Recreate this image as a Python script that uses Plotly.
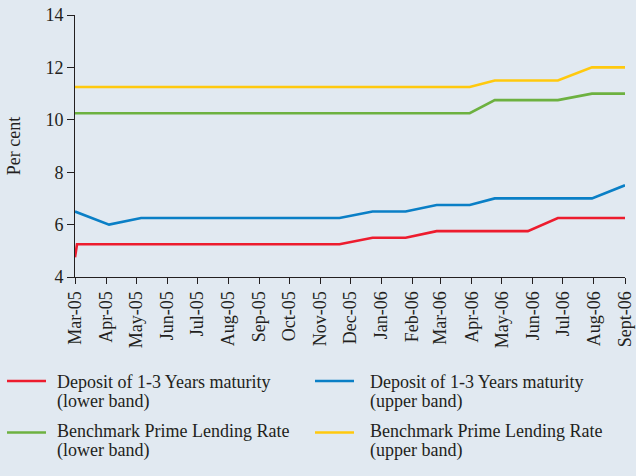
import plotly.graph_objects as go

# Observation dates
dates = ["2005-03-01", "2005-03-03", "2005-04-04", "2005-05-06", "2005-11-20",
         "2005-12-23", "2006-01-25", "2006-02-25", "2006-03-30", "2006-04-24",
         "2006-05-27", "2006-06-26", "2006-07-30", "2006-09-01"]

deposit_lower = [4.75, 5.25, 5.25, 5.25, 5.25, 5.5, 5.5, 5.75, 5.75, 5.75, 5.75, 6.25, 6.25, 6.25]
deposit_upper = [6.5, None, 6.0, 6.25, 6.25, 6.5, 6.5, 6.75, 6.75, 7.0, 7.0, 7.0, 7.0, 7.5]
bplr_lower = [10.25, None, 10.25, 10.25, 10.25, 10.25, 10.25, 10.25, 10.25, 10.75, 10.75, 10.75, 11.0, 11.0]
bplr_upper = [11.25, None, 11.25, 11.25, 11.25, 11.25, 11.25, 11.25, 11.25, 11.5, 11.5, 11.5, 12.0, 12.0]

series_names = [["Deposit of 1-3 Years maturity", "(lower band)"],
                ["Deposit of 1-3 Years maturity", "(upper band)"],
                ["Benchmark Prime Lending Rate", "(lower band)"],
                ["Benchmark Prime Lending Rate", "(upper band)"]]
series_colors = ["#ed1c2e", "#0a7fc6", "#6db140", "#ffc90e"]

tick_dates = ["2005-03-01", "2005-04-01", "2005-05-01", "2005-06-01", "2005-07-01",
              "2005-08-01", "2005-09-01", "2005-10-01", "2005-11-01", "2005-12-01",
              "2006-01-01", "2006-02-01", "2006-03-01", "2006-04-01", "2006-05-01",
              "2006-06-01", "2006-07-01", "2006-08-01", "2006-09-01"]
tick_labels = ["Mar-05", "Apr-05", "May-05", "Jun-05", "Jul-05", "Aug-05", "Sep-05",
               "Oct-05", "Nov-05", "Dec-05", "Jan-06", "Feb-06", "Mar-06", "Apr-06",
               "May-06", "Jun-06", "Jul-06", "Aug-06", "Sept-06"]

bg = "#e1e9f1"
txt = "#231f20"
font_family = "Liberation Serif, Times New Roman, serif"

W, H = 636, 476
ML, MR, MT, MB = 75, 11, 15, 199
PW, PH = W - ML - MR, H - MT - MB


def px_x(px):
    return (px - ML) / PW


def px_y(py):
    return (H - MB - py) / PH


fig = go.Figure()
for vals, name, col in zip([deposit_lower, deposit_upper, bplr_lower, bplr_upper],
                           series_names, series_colors):
    fig.add_trace(go.Scatter(x=dates, y=vals, mode="lines", name=" ".join(name),
                             connectgaps=True, showlegend=False,
                             line=dict(color=col, width=2.6)))

# Manual legend (2 x 2 grid)
col_line_x = [(7, 46), (315, 354)]
col_text_x = [56, 369]
row_line_y = [381, 432.5]
row_text_y = [(381.5, 401.5), (430.5, 450.5)]
shapes = []
annotations = []
for i, (name, col) in enumerate(zip(series_names, series_colors)):
    r, c = divmod(i, 2)
    x0, x1 = col_line_x[c]
    shapes.append(dict(type="line", xref="paper", yref="paper",
                       x0=px_x(x0), x1=px_x(x1), y0=px_y(row_line_y[r]), y1=px_y(row_line_y[r]),
                       line=dict(color=col, width=2.6)))
    for line_text, ty in zip(name, row_text_y[r]):
        annotations.append(dict(xref="paper", yref="paper", x=px_x(col_text_x[c]), y=px_y(ty),
                                xanchor="left", yanchor="middle", showarrow=False,
                                text=line_text, borderpad=0,
                                font=dict(size=18, family=font_family, color=txt)))

fig.update_layout(
    width=W, height=H,
    margin=dict(l=ML, r=MR, t=MT, b=MB),
    paper_bgcolor=bg, plot_bgcolor=bg,
    font=dict(family=font_family, size=18, color=txt),
    showlegend=False,
    shapes=shapes,
    annotations=annotations,
    xaxis=dict(type="date", range=["2005-03-01", "2006-09-01"], automargin=False,
               tickmode="array", tickvals=tick_dates, ticktext=tick_labels,
               tickangle=-90, showgrid=False, zeroline=False,
               showline=True, linecolor=txt, linewidth=1,
               ticks="outside", ticklen=6, tickcolor=txt,
               tickfont=dict(size=18)),
    yaxis=dict(range=[4, 14], dtick=2, showgrid=False, zeroline=False, automargin=False,
               showline=True, linecolor=txt, linewidth=1,
               ticks="outside", ticklen=7, tickcolor=txt,
               tickfont=dict(size=18),
               title=dict(text="Per cent", font=dict(size=18), standoff=20)),
)

fig.write_html("out.html",
               config={"displayModeBar": False},
               post_script="document.body.style.margin='0px';"
                           "document.body.style.background='" + bg + "';")
